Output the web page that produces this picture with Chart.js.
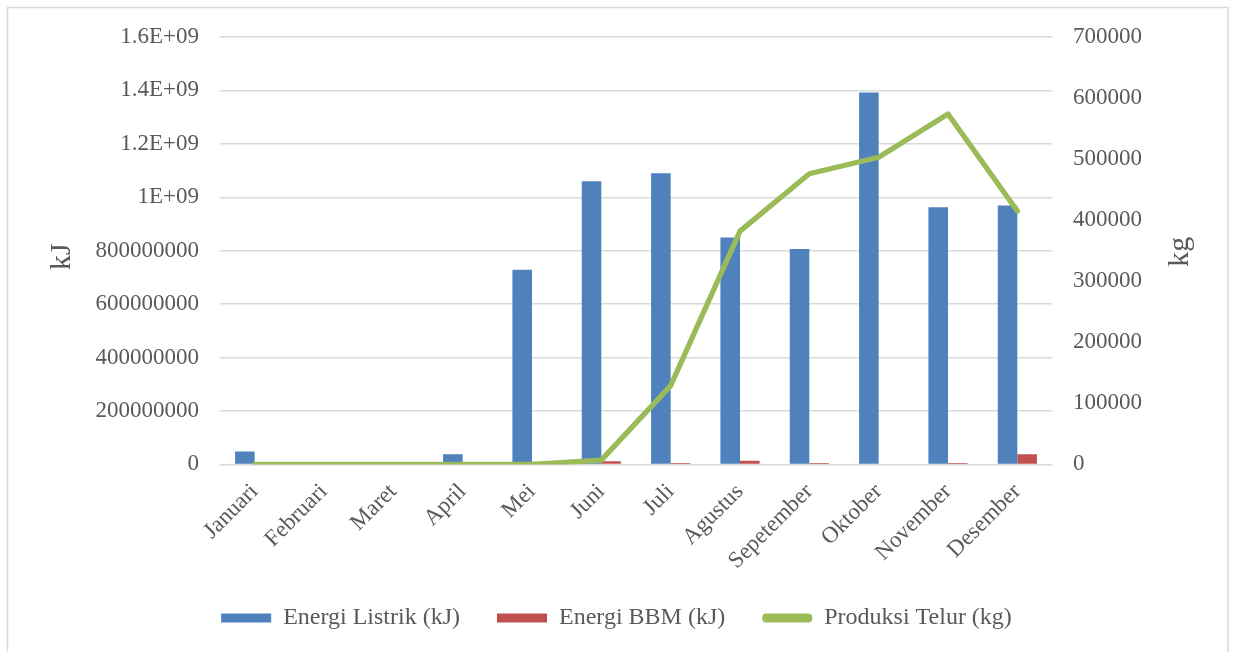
<!DOCTYPE html>
<html>
<head>
<meta charset="utf-8">
<script src="https://cdn.jsdelivr.net/npm/chart.js@4.4.1/dist/chart.umd.min.js"></script>
<style>
  html, body { margin: 0; padding: 0; background: #ffffff; }
  #wrap { position: relative; width: 1233px; height: 652px; }
</style>
</head>
<body>
<div id="wrap"><canvas id="c" width="1233" height="652"></canvas></div>
<script>
// Monthly energy use and egg production
const months = ['Januari', 'Februari', 'Maret', 'April', 'Mei', 'Juni', 'Juli',
                'Agustus', 'Sepetember', 'Oktober', 'November', 'Desember'];
const energiListrik = [48000000, 0, 0, 38000000, 729000000, 1060000000, 1090000000,
                       849000000, 806000000, 1392000000, 963000000, 969000000];
const energiBBM = [0, 0, 0, 0, 0, 12000000, 5000000, 14000000, 5000000, 0, 5000000, 38000000];
const produksiTelur = [0, 0, 0, 0, 0, 7000, 129000, 382000, 476000, 503000, 574000, 415000];

const kjTickLabels = ['0', '200000000', '400000000', '600000000', '800000000',
                      '1E+09', '1.2E+09', '1.4E+09', '1.6E+09'];
const kgTickLabels = ['0', '100000', '200000', '300000', '400000', '500000', '600000', '700000'];

const FONT = '"Liberation Serif", "Times New Roman", serif';
const TEXT = '#595959';
const GRID = '#d9d9d9';

// White page with a thin grey frame around the chart
const framePlugin = {
  id: 'frame',
  beforeDraw(chart) {
    const ctx = chart.ctx;
    ctx.save();
    ctx.fillStyle = '#ffffff';
    ctx.fillRect(0, 0, chart.width, chart.height);
    ctx.strokeStyle = GRID;
    ctx.lineWidth = 1.5;
    ctx.strokeRect(7.5, 7.5, chart.width - 12.5, chart.height + 10);
    ctx.restore();
  }
};

// Axis unit titles, both reading bottom-to-top
const axisTitlePlugin = {
  id: 'axisTitles',
  afterDraw(chart) {
    const ctx = chart.ctx;
    const area = chart.chartArea;
    const midY = (area.top + area.bottom) / 2;
    ctx.save();
    ctx.fillStyle = TEXT;
    ctx.font = '30px ' + FONT;
    ctx.textAlign = 'center';
    ctx.textBaseline = 'middle';
    [[chart.scales.y.left + 62, midY + 6, 'kJ'], [chart.scales.y1.right - 53, midY + 1, 'kg']].forEach(([x, y, t]) => {
      ctx.save();
      ctx.translate(x, y);
      ctx.rotate(-Math.PI / 2);
      ctx.fillText(t, 0, 0);
      ctx.restore();
    });
    ctx.restore();
  }
};

const chart = new Chart(document.getElementById('c'), {
  data: {
    labels: months,
    datasets: [
      {
        type: 'bar',
        label: 'Energi Listrik (kJ)',
        data: energiListrik,
        backgroundColor: '#4f81bd',
        yAxisID: 'y',
        order: 1,
        categoryPercentage: 0.565,
        barPercentage: 1.0
      },
      {
        type: 'bar',
        label: 'Energi BBM (kJ)',
        data: energiBBM,
        backgroundColor: '#c0504d',
        yAxisID: 'y',
        order: 1,
        categoryPercentage: 0.565,
        barPercentage: 1.0
      },
      {
        type: 'line',
        label: 'Produksi Telur (kg)',
        data: produksiTelur,
        borderColor: '#9bbb59',
        backgroundColor: '#9bbb59',
        borderWidth: 5.3,
        borderJoinStyle: 'round',
        borderCapStyle: 'round',
        pointRadius: 0,
        tension: 0,
        yAxisID: 'y1',
        order: 0
      }
    ]
  },
  options: {
    responsive: false,
    animation: false,
    devicePixelRatio: 1,
    layout: { padding: { top: 37, left: 0, right: 0, bottom: 12 } },
    plugins: {
      tooltip: { enabled: false },
      legend: {
        position: 'bottom',
        labels: {
          font: { family: FONT, size: 24 },
          color: TEXT,
          boxWidth: 50,
          boxHeight: 9,
          padding: 37,
          useBorderRadius: true,
          sort: (a, b) => a.datasetIndex - b.datasetIndex,
          generateLabels(ch) {
            const items = Chart.defaults.plugins.legend.labels.generateLabels(ch);
            items.forEach((it) => {
              it.lineWidth = 0;
              it.strokeStyle = 'transparent';
              it.borderRadius = it.datasetIndex === 2 ? 4 : 0;
            });
            return items;
          }
        }
      }
    },
    scales: {
      x: {
        grid: { display: false },
        border: { display: false },
        ticks: {
          font: { family: FONT, size: 23 },
          color: TEXT,
          autoSkip: false,
          minRotation: 45,
          maxRotation: 45,
          padding: 6
        },
        afterFit(s) {
          s.height = 104.6;
        }
      },
      y: {
        position: 'left',
        min: 0,
        max: 1600000000,
        grid: { color: GRID, lineWidth: 1.5, drawTicks: false },
        border: { display: false },
        ticks: {
          stepSize: 200000000,
          font: { family: FONT, size: 23 },
          color: TEXT,
          padding: 21,
          callback: (v, i) => kjTickLabels[i]
        },
        afterFit(s) { s.width = 220; }
      },
      y1: {
        position: 'right',
        min: 0,
        max: 700000,
        grid: { display: false, drawTicks: false },
        border: { display: false },
        ticks: {
          stepSize: 100000,
          font: { family: FONT, size: 23 },
          color: TEXT,
          padding: 21,
          callback: (v, i) => kgTickLabels[i]
        },
        afterFit(s) { s.width = 181; }
      }
    }
  },
  plugins: [framePlugin, axisTitlePlugin]
});
</script>
</body>
</html>
